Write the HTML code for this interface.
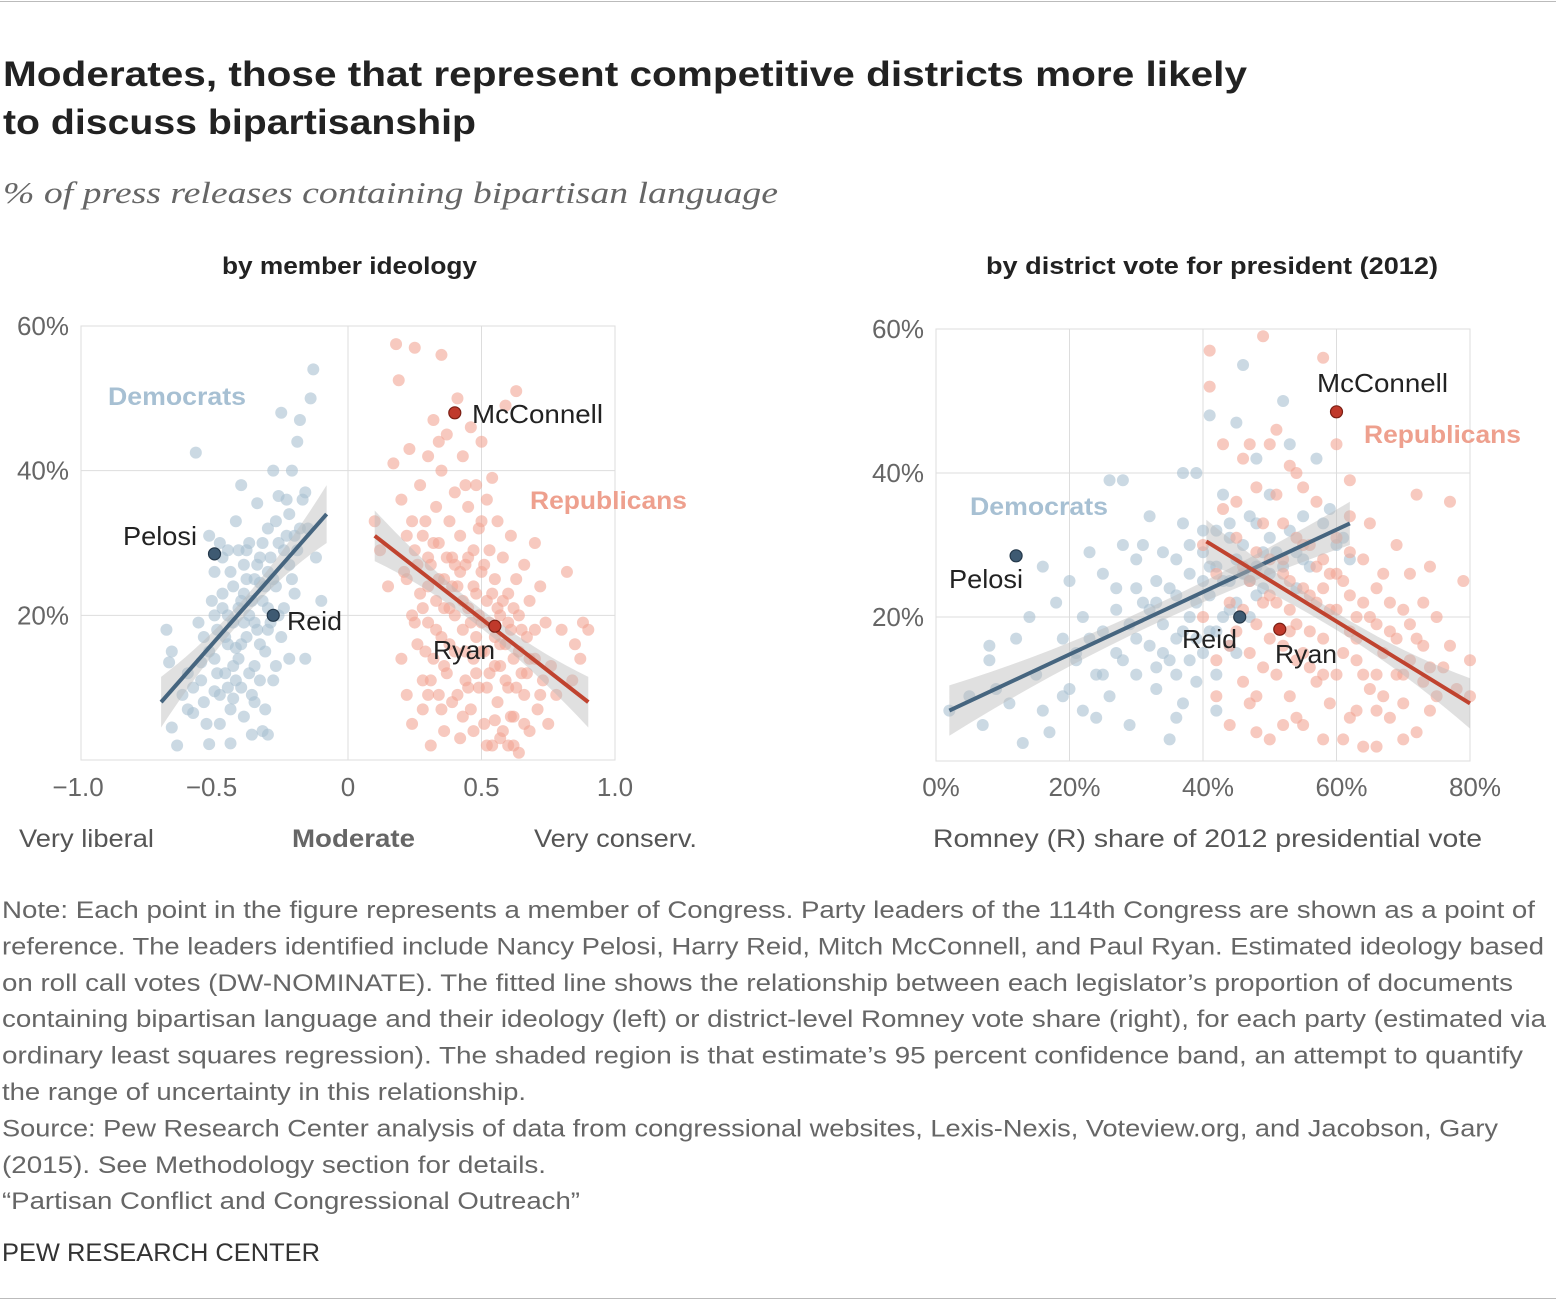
<!DOCTYPE html>
<html><head><meta charset="utf-8"><style>
body{margin:0;background:#fff}
svg{display:block;font-family:"Liberation Sans",sans-serif}
</style></head><body>
<svg id="chart" width="1556" height="1316" viewBox="0 0 1556 1316" xmlns="http://www.w3.org/2000/svg">
<line x1="0" y1="1.5" x2="1556" y2="1.5" stroke="#bbb" stroke-width="1"/>
<text x="3" y="86" font-size="35" font-weight="bold" fill="#222" textLength="1244" lengthAdjust="spacingAndGlyphs">Moderates, those that represent competitive districts more likely</text>
<text x="3" y="134" font-size="35" font-weight="bold" fill="#222" textLength="473" lengthAdjust="spacingAndGlyphs">to discuss bipartisanship</text>
<text x="3" y="203" font-size="31" font-style="italic" fill="#666" font-family="Liberation Serif, serif" textLength="775" lengthAdjust="spacingAndGlyphs">% of press releases containing bipartisan language</text>
<text x="222" y="274" font-size="24" font-weight="bold" fill="#222" textLength="255" lengthAdjust="spacingAndGlyphs">by member ideology</text>
<text x="986" y="274" font-size="24" font-weight="bold" fill="#222" textLength="452" lengthAdjust="spacingAndGlyphs">by district vote for president (2012)</text>
<g id="left"></g>
<g id="right"></g>
<text x="19" y="847" font-size="25" fill="#555" textLength="135" lengthAdjust="spacingAndGlyphs">Very liberal</text>
<text x="292" y="847" font-size="25" font-weight="bold" fill="#666" textLength="123" lengthAdjust="spacingAndGlyphs">Moderate</text>
<text x="534" y="847" font-size="25" fill="#555" textLength="163" lengthAdjust="spacingAndGlyphs">Very conserv.</text>
<text x="933" y="847" font-size="25" fill="#555" textLength="549" lengthAdjust="spacingAndGlyphs">Romney (R) share of 2012 presidential vote</text>
<g id="notes" font-size="24" fill="#666"></g>
<text x="2" y="1261" font-size="25" fill="#333" textLength="318" lengthAdjust="spacingAndGlyphs">PEW RESEARCH CENTER</text>
<line x1="0" y1="1298.5" x2="1556" y2="1298.5" stroke="#bbb" stroke-width="1"/>
</svg>
<script>
// ---- data ----
const leftDem=[-0.68,18,-0.67,13.5,-0.66,4.5,-0.64,2,-0.62,9,-0.6,7,-0.58,6.5,-0.57,42.5,-0.56,19,-0.55,11,-0.54,17,-0.53,5,-0.52,2.2,-0.52,31,-0.51,22,-0.5,14,-0.5,26,-0.49,18,-0.48,9,-0.47,28,-0.47,21,-0.46,12,-0.45,16,-0.45,29,-0.44,7,-0.43,24,-0.43,19,-0.42,33,-0.42,11,-0.41,14,-0.4,38,-0.4,22,-0.39,27,-0.39,6,-0.38,17,-0.37,30,-0.37,20,-0.36,9,-0.35,25,-0.35,13,-0.34,35.5,-0.34,18,-0.33,28,-0.32,4,-0.32,22,-0.31,15,-0.3,32,-0.3,26,-0.29,19,-0.28,11,-0.28,40,-0.27,24,-0.26,30,-0.25,48,-0.25,17,-0.24,21,-0.23,36,-0.22,14,-0.22,27,-0.21,40,-0.2,31,-0.2,23,-0.19,44,-0.18,47,-0.17,36,-0.16,14,-0.15,32,-0.14,50,-0.13,54,-0.12,28,-0.1,22,-0.66,15,-0.6,12,-0.55,13.5,-0.48,30,-0.44,2.3,-0.36,3.5,-0.3,3.5,-0.4,16,-0.38,25,-0.33,24.5,-0.27,13,-0.26,36.5,-0.45,20,-0.5,9.5,-0.43,8.5,
-0.58,10,-0.54,8,-0.52,15,-0.49,12,-0.47,23,-0.46,17,-0.44,26,-0.42,15.5,-0.41,21,-0.4,10,-0.39,19,-0.38,29,-0.37,12,-0.36,22,-0.35,19,-0.34,27,-0.33,16,-0.32,30,-0.31,24,-0.3,18,-0.29,28,-0.28,25,-0.27,33,-0.26,20,-0.24,29,-0.23,31,-0.22,34,-0.21,25,-0.19,29,-0.18,32,-0.16,37,-0.5,20,-0.48,5,-0.45,10,-0.43,13,-0.41,29,-0.39,23,-0.35,8,-0.33,11,-0.31,7,-0.3,21];
const leftRep=[0.1,33,0.12,29,0.15,24,0.17,41,0.18,57.5,0.19,52.5,0.2,36,0.2,14,0.21,26,0.22,9,0.22,31,0.23,43,0.24,20,0.24,5,0.25,57,0.25,29,0.26,16,0.27,38,0.27,23,0.28,11,0.28,7,0.29,33,0.3,42,0.3,19,0.31,27,0.31,2,0.32,14,0.32,47,0.33,22,0.33,35,0.34,9,0.34,30,0.35,40,0.35,17,0.36,25,0.36,4,0.37,45,0.37,12,0.38,33,0.38,21,0.39,8,0.39,28,0.4,37,0.4,15,0.41,24,0.41,50,0.42,31,0.42,3,0.43,18,0.43,42,0.44,11,0.44,27,0.45,21,0.45,35,0.46,7,0.46,46,0.47,29,0.47,14,0.48,23,0.48,38,0.49,10,0.49,32,0.5,19,0.5,44,0.5,26,0.51,5,0.51,15,0.52,36,0.52,22,0.53,12,0.53,29,0.54,39,0.54,2,0.55,17,0.55,25,0.56,8,0.56,33,0.57,20,0.57,13,0.58,28,0.58,4,0.59,49,0.59,16,0.6,23,0.6,10,0.61,31,0.61,18,0.62,6,0.62,14,0.63,25,0.63,51,0.64,20,0.64,1,0.65,12,0.66,27,0.66,9,0.67,17,0.68,22,0.68,4,0.7,14,0.7,30,0.71,7,0.72,24,0.73,11,0.74,19,0.75,5,0.76,13,0.78,9,0.8,18,0.82,26,0.84,11,0.85,16,0.87,14,0.88,19,0.9,18,0.35,56,0.45,10,0.4,27,0.3,28,0.25,19,0.55,5.5,0.6,2,0.48,17,
0.22,25,0.24,33,0.26,27,0.28,21,0.29,15,0.3,24,0.31,11,0.32,30,0.33,18,0.34,25,0.35,7,0.36,21,0.37,28,0.38,16,0.39,24,0.4,20,0.41,9,0.42,26,0.43,22,0.44,15,0.45,28,0.46,19,0.47,24,0.48,12,0.49,20,0.5,15,0.51,27,0.52,10,0.53,19,0.54,23,0.55,13,0.56,21,0.57,16,0.58,22,0.59,11,0.6,19,0.61,6,0.62,21,0.63,10,0.64,15,0.65,18,0.66,5,0.67,12,0.68,14,0.7,18,0.72,9,0.3,9,0.36,13,0.43,6,0.47,4,0.52,2,0.57,3,0.62,2,0.28,31,0.34,44,0.44,38,0.5,33];
const rightDem=[2,7,5,9,7,5,8,16,8,14,9,10,11,8,12,17,13,2.5,14,20,15,12,16,7,16,27,17,4,18,22,19,17,20,10,20,25,21,14,22,7,22,20,23,29,24,12,25,18,25,26,26,9,27,24,27,15,28,39,28,30,29,19,29,5,30,28,30,12,31,22,32,16,32,34,33,10,33,25,34,19,34,29,35,14,35,3,36,23,36,17,37,33,37,8,38,20,38,26,39,11,39,40,40,15,40,29,41,23,41,48,42,32,42,18,43,25,43,37,44,21,44,31,45,47,45,28,46,26,46,55,47,34,48,23,48,42,49,29,50,31,50,37,52,50,53,44,54,29,55,34,56,27,57,42,58,33,59,35,60,30,61,31,62,28,26,39,31,30,36,6,37,40,24,6,19,9,21,15,33,22,38,14,42,7,27,21,44,16,41,27,47,25,
30,17,32,21,34,15,35,24,36,12,37,18,38,30,39,22,40,25,41,18,42,27,43,20,44,25,45,22,46,30,47,20,48,27,49,24,50,26,51,29,52,27,53,32,54,24,55,28,28,14,30,24,33,13,36,28,39,17,42,12,45,15,48,33,25,12,23,17,40,32,44,33];
const rightRep=[40,20,40,30,41,57,41,52,42,14,42,26,43,44,43,35,44,5,44,22,45,18,45,31,46,11,46,42,47,25,47,8,48,38,48,19,49,13,49,59,50,28,50,3,51,22,51,46,52,16,52,33,53,9,53,25,54,40,54,19,55,30,55,5,56,23,56,13,57,36,57,27,58,17,58,56,59,8,59,21,60,31,60,12,60,44,61,25,61,3,62,18,62,34,63,14,63,7,64,22,64,28,65,10,65,33,66,19,66,2,67,26,67,15,68,6,68,22,69,17,69,30,70,12,70,8,71,26,71,19,72,37,72,4,73,16,73,11,74,27,74,7,75,20,76,13,77,16,77,36,78,10,79,25,80,14,80,9,45,36,50,44,55,38,48,29,53,18,57,11,63,20,70,3,52,5,46,27,58,24,66,12,62,39,55,15,
47,15,48,9,49,22,50,17,51,12,52,26,53,21,54,14,55,24,56,18,57,22,58,12,59,26,60,21,61,15,62,23,63,17,64,12,65,20,66,24,67,9,68,18,69,12,70,21,71,14,72,17,73,22,74,13,75,9,56,30,58,28,60,26,62,29,54,31,52,28,50,23,46,21,44,16,42,9,48,4,54,6,58,3,62,6,66,7,64,2,49,33,51,37,53,41,47,44];
// fit line endpoints [x0,y0,x1,y1] and band half-widths [end0, middle, end1]
const leftDemFit=[-0.7,8,-0.08,34], leftDemBand=[3.5,1.3,4];
const leftRepFit=[0.1,31,0.9,8], leftRepBand=[3.5,1.3,3.5];
const rightDemFit=[2,7,62,33], rightDemBand=[3.5,1.3,3];
const rightRepFit=[40.5,30.5,80,8], rightRepBand=[3,1.2,3.5];
const leftLeaders=[["Pelosi",-0.5,28.5,"d"],["Reid",-0.28,20,"d"],["McConnell",0.4,48,"r"],["Ryan",0.55,18.5,"r"]];
const rightLeaders=[["Pelosi",12,28.5,"d"],["Reid",45.5,20,"d"],["McConnell",60,48.5,"r"],["Ryan",51.5,18.3,"r"]];
const leftXTicks=[-1,-0.5,0,0.5,1], leftXLabels=["\u22121.0","\u22120.5","0","0.5","1.0"];
const rightXTicks=[0,20,40,60,80], rightXLabels=["0%","20%","40%","60%","80%"];
const yTicks=[20,40,60], yLabels=["20%","40%","60%"];
const notes=["Note: Each point in the figure represents a member of Congress. Party leaders of the 114th Congress are shown as a point of","reference. The leaders identified include Nancy Pelosi, Harry Reid, Mitch McConnell, and Paul Ryan. Estimated ideology based","on roll call votes (DW-NOMINATE). The fitted line shows the relationship between  each legislator\u2019s proportion of documents","containing bipartisan language and their ideology (left) or district-level Romney vote share (right), for each party (estimated via","ordinary least squares regression). The shaded region is that estimate\u2019s 95 percent confidence band, an attempt to quantify","the range of uncertainty in this relationship.","Source: Pew Research Center analysis of data from congressional websites, Lexis-Nexis, Voteview.org, and Jacobson, Gary","(2015). See Methodology section for details.","\u201cPartisan Conflict and Congressional Outreach\u201d"];
const noteWidths=[1533,1542,1511,1544,1521,524,1496,544,578];

const NS="http://www.w3.org/2000/svg";
function mk(parent,tag,attrs,txt){const e=document.createElementNS(NS,tag);for(const k in attrs)e.setAttribute(k,attrs[k]);if(txt!=null)e.textContent=txt;parent.appendChild(e);return e;}

function panel(g,cfg){
  const X=v=>cfg.x0+(v-cfg.xmin)/(cfg.xmax-cfg.xmin)*(cfg.x1-cfg.x0);
  const Y=v=>cfg.y0-(v/60)*(cfg.y0-cfg.y1);
  const frame=mk(g,"rect",{x:cfg.x0,y:cfg.y1,width:cfg.x1-cfg.x0,height:cfg.y0-cfg.y1,fill:"none",stroke:"#ddd","stroke-width":1});
  
  
  cfg.grid.forEach(v=>{const l=mk(g,"line",{x1:X(v),x2:X(v),y1:cfg.y1,y2:cfg.y0,stroke:"#ddd","stroke-width":1});
    
    });
  [20,40].forEach(v=>{const l=mk(g,"line",{x1:cfg.x0,x2:cfg.x1,y1:Y(v),y2:Y(v),stroke:"#ddd","stroke-width":1});
    
    });
  cfg.xt.forEach((v,i)=>{const t=mk(g,"text",{x:X(v)-(cfg.xl[i][0]=="\u2212"?3:0)+(cfg.xshift||0),y:796,"font-size":26,fill:"#666","text-anchor":"middle"},cfg.xl[i]);
    
    });
  yTicks.forEach((v,i)=>{const t=mk(g,"text",{x:cfg.x0-12,y:Y(v)+9,"font-size":26,fill:"#666","text-anchor":"end"},yLabels[i]);
    
    });
  function pts(arr,col,name){for(let i=0;i<arr.length;i+=2){const c=mk(g,"circle",{cx:X(arr[i]),cy:Y(arr[i+1]),r:6,fill:col,"fill-opacity":0.6});
    
    }}
  pts(cfg.dem,"#a9bfd0","dem-point");
  pts(cfg.rep,"#f2a595","rep-point");
  function fit(f,b,col,name){
    const n=20,up=[],lo=[];
    for(let k=0;k<=n;k++){const t=k/n,x=f[0]+(f[2]-f[0])*t,y=f[1]+(f[3]-f[1])*t;
      const h=t<0.5?b[1]+(b[0]-b[1])*Math.pow((0.5-t)*2,2):b[1]+(b[2]-b[1])*Math.pow((t-0.5)*2,2);
      up.push(X(x)+","+Y(y+h));lo.unshift(X(x)+","+Y(y-h));}
    const p=mk(g,"polygon",{points:up.concat(lo).join(" "),fill:"#bbb","fill-opacity":0.45});
    
    
    const l=mk(g,"line",{x1:X(f[0]),y1:Y(f[1]),x2:X(f[2]),y2:Y(f[3]),stroke:col,"stroke-width":4});
    
    
  }
  fit(cfg.df,cfg.db,"#46657f","dem-fit");
  fit(cfg.rf,cfg.rb,"#c0432f","rep-fit");
  cfg.leaders.forEach(L=>{const c=mk(g,"circle",{cx:X(L[1]),cy:Y(L[2]),r:6,fill:L[3]=="d"?"#3e5a72":"#c0392b",stroke:L[3]=="d"?"#24384a":"#7a1f14","stroke-width":1.2});
    
    });
  cfg.labels.forEach(L=>{const t=mk(g,"text",{x:L[1],y:L[2],"font-size":L[4]?25:26,"font-weight":L[4]?"bold":"normal",fill:L[3],textLength:L[5],lengthAdjust:"spacingAndGlyphs"},L[0]);
    
    });
}
panel(document.getElementById("left"),{x0:81,x1:615,y0:760,y1:326,xmin:-1,xmax:1,grid:[0,0.5],xt:leftXTicks,xl:leftXLabels,dem:leftDem,rep:leftRep,df:leftDemFit,db:leftDemBand,rf:leftRepFit,rb:leftRepBand,leaders:leftLeaders,
 labels:[["Democrats",108,405,"#a7c0d3",1,138],["Republicans",530,509,"#eea08e",1,157],["McConnell",472,423,"#222",0,131],["Pelosi",123,545,"#222",0,74],["Reid",287,630,"#222",0,55],["Ryan",433,659,"#222",0,62]]});
panel(document.getElementById("right"),{x0:936,x1:1470,y0:761,y1:329,xmin:0,xmax:80,grid:[20,40,60],xt:rightXTicks,xl:rightXLabels,xshift:5,dem:rightDem,rep:rightRep,df:rightDemFit,db:rightDemBand,rf:rightRepFit,rb:rightRepBand,leaders:rightLeaders,
 labels:[["Democrats",970,515,"#a7c0d3",1,138],["Republicans",1364,443,"#eea08e",1,157],["McConnell",1317,392,"#222",0,131],["Pelosi",949,588,"#222",0,74],["Reid",1182,648,"#222",0,55],["Ryan",1275,663,"#222",0,62]]});
const ng=document.getElementById("notes");
notes.forEach((s,i)=>{const t=mk(ng,"text",{x:2,y:918+i*36.4,textLength:noteWidths[i],lengthAdjust:"spacingAndGlyphs"},s);
  
  });
</script>
</body></html>
